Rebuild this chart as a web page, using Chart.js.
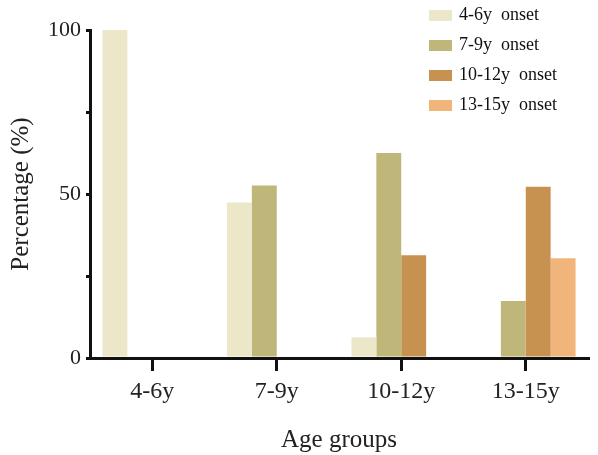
<!DOCTYPE html>
<html lang="en">
<head>
    <meta charset="UTF-8">
    <title>Age groups vs onset</title>
    <script src="https://cdn.jsdelivr.net/npm/chart.js@4.4.0/dist/chart.umd.min.js"></script>
    <style>
        body {
            margin: 0;
            padding: 0;
            background: #ffffff;
        }
        .chart-container {
            width: 598px;
            height: 455px;
            position: relative;
        }
    </style>
</head>
<body>
    <div class="chart-container">
        <canvas id="onsetChart"></canvas>
    </div>

    <script>
        // values (percent of each age group)
        const ageGroups = ['4-6y', '7-9y', '10-12y', '13-15y'];
        const onsetLabels = ['4-6y  onset', '7-9y  onset', '10-12y  onset', '13-15y  onset'];
        const onset4to6 = [100, 47.4, 6.3, 0];
        const onset7to9 = [0, 52.6, 62.5, 17.4];
        const onset10to12 = [0, 0, 31.3, 52.2];
        const onset13to15 = [0, 0, 0, 30.4];
        const yTicks = [0, 50, 100];

        const colors = ['#ebe7c8', '#bfb77a', '#c7924f', '#f1b47a'];
        const serif = '"Liberation Serif", "DejaVu Serif", serif';

        const ctx = document.getElementById('onsetChart').getContext('2d');

        // legend drawn by hand in the top right corner, over the plot area
        const cornerLegend = {
            id: 'cornerLegend',
            afterDraw(chart) {
                const c = chart.ctx;
                c.save();
                c.font = '18px ' + serif;
                c.textBaseline = 'middle';
                chart.data.datasets.forEach((ds, i) => {
                    const y = 15 + i * 30;
                    c.fillStyle = ds.backgroundColor;
                    c.fillRect(429, y - 5, 23, 11);
                    c.fillStyle = '#111';
                    c.fillText(ds.label, 459, y);
                });
                c.restore();
            }
        };

        new Chart(ctx, {
            type: 'bar',
            data: {
                labels: ageGroups,
                datasets: [
                    { label: onsetLabels[0], data: onset4to6, backgroundColor: colors[0] },
                    { label: onsetLabels[1], data: onset7to9, backgroundColor: colors[1] },
                    { label: onsetLabels[2], data: onset10to12, backgroundColor: colors[2] },
                    { label: onsetLabels[3], data: onset13to15, backgroundColor: colors[3] }
                ]
            },
            options: {
                responsive: true,
                maintainAspectRatio: false,
                animation: false,
                datasets: {
                    bar: {
                        categoryPercentage: 0.8,
                        barPercentage: 1.0,
                        borderWidth: 0
                    }
                },
                layout: {
                    padding: { top: 30, right: 10, left: 0, bottom: 0 }
                },
                plugins: {
                    legend: { display: false },
                    tooltip: { enabled: false }
                },
                scales: {
                    x: {
                        offset: true,
                        grid: {
                            offset: false,
                            drawOnChartArea: false,
                            drawTicks: true,
                            tickLength: 13,
                            lineWidth: 3,
                            color: '#111'
                        },
                        border: { display: true, color: '#111', width: 3 },
                        ticks: {
                            color: '#222',
                            padding: 6,
                            font: { family: serif, size: 24 }
                        },
                        title: {
                            display: true,
                            text: 'Age groups',
                            color: '#222',
                            padding: { top: 1, bottom: 0 },
                            font: { family: serif, size: 25 }
                        },
                        afterFit(scale) {
                            scale.height = 97;
                            scale.paddingRight = 0;
                            scale.paddingLeft = 0;
                        }
                    },
                    y: {
                        min: 0,
                        max: 100,
                        grid: {
                            drawOnChartArea: false,
                            drawTicks: true,
                            tickLength: 4,
                            lineWidth: 3,
                            color: '#111'
                        },
                        border: { display: true, color: '#111', width: 3 },
                        ticks: {
                            stepSize: 25,
                            color: '#222',
                            padding: 5,
                            font: { family: serif, size: 22 },
                            callback: (v) => yTicks.includes(v) ? v : ''
                        },
                        title: {
                            display: true,
                            text: 'Percentage (%)',
                            color: '#222',
                            padding: { top: 6, bottom: 0 },
                            font: { family: serif, size: 25 }
                        },
                        afterFit(scale) {
                            scale.width = 90;
                            scale.paddingTop = 0;
                            scale.paddingBottom = 0;
                        }
                    }
                }
            },
            plugins: [cornerLegend]
        });
    </script>
</body>
</html>
